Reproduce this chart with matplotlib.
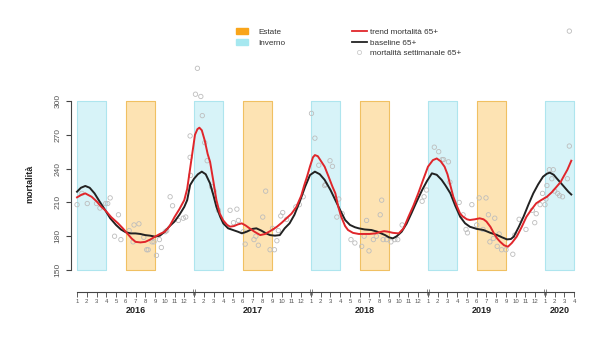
import matplotlib.pyplot as plt
import numpy as np
from matplotlib.patches import Patch
from matplotlib.lines import Line2D

plt.rcParams['font.family'] = ['Liberation Sans', 'DejaVu Sans']

## 1. Data (x = month index, 1 = Jan 2016)

anni = [2016, 2017, 2018, 2019, 2020]
anni_pos = [7, 19, 30.5, 42.5, 50.5]
mesi_label = [str(m) for m in range(1, 13)] * 4 + ['1', '2', '3', '4']
inverno = (1, 4)   # gen-apr
estate = (6, 9)    # giu-set

# weekly mortality 65+
sett_x = [1.0, 1.5, 2.05, 3.0, 3.35, 3.95, 4.15, 4.4, 5.25, 4.85, 5.5, 6.35, 6.85, 7.35, 6.75,
          7.85, 8.15, 8.3, 8.7, 8.9, 9.15, 9.65, 9.45, 10.05, 10.2, 10.55, 10.8, 11.4, 11.9,
          12.15, 12.65,
          12.6, 12.6, 13.35, 13.15, 13.7, 13.85, 14.1, 14.35, 14.8, 15.05, 15.5, 16.7, 17.4,
          17.05, 17.55, 18.05, 18.25, 19.15, 19.6, 19.35, 20.05, 20.35, 20.8, 21.25, 21.05,
          21.5, 21.65, 21.9, 22.1, 22.5, 23.45, 23.8, 24.2,
          25.05, 25.4, 25.8, 26.4, 26.5, 26.95, 27.2, 27.85, 27.65, 28.2, 29.1, 29.5, 30.2,
          30.95, 30.7, 30.45, 31.4, 31.7, 32.1, 32.25, 32.4, 32.75, 33.2, 33.6, 33.9, 34.35,
          36.4, 36.6, 36.85, 37.65, 38.1, 38.45,
          38.6, 39.1, 39.25, 40.2, 40.6, 40.9, 41.05, 41.5, 42.25, 42.95, 42.0, 42.65, 43.2,
          43.85, 43.7, 43.35, 44.3, 44.1, 44.55, 45.0, 45.7, 45.9, 46.35, 47.05, 47.7, 48.1,
          47.95, 48.5,
          49.0, 48.75, 49.1, 49.2, 49.45, 49.85, 49.7, 50.0, 50.3, 50.5, 50.8, 51.3, 51.5, 51.5]
sett_y = [208, 218, 209, 209, 205, 209, 209, 214, 199, 180, 177, 185, 190, 191, 175,
          179, 168, 168, 175, 175, 163, 170, 177, 184, 185, 215, 207, 194, 196,
          197, 234,
          250, 269, 329, 306, 304, 287, 263, 247, 224, 220, 203, 203, 204,
          192, 194, 184, 173, 177, 172, 180, 197, 220, 168, 168, 187,
          176, 185, 198, 201, 195, 206, 208, 215,
          289, 267, 243, 225, 226, 247, 242, 213, 197, 200, 177, 174, 171,
          167, 194, 180, 177, 180, 199, 212, 177, 177, 175, 177, 177, 190,
          211, 215, 221, 259, 255, 248,
          248, 246, 228, 210, 199, 186, 183, 208, 214, 214, 190, 186, 199,
          196, 178, 175, 182, 171, 168, 168, 164, 181, 195, 186, 203, 200,
          192, 208,
          208, 218, 213, 225, 239, 239, 231, 220, 218, 216, 215, 231, 260, 362]

# trend mortalita 65+
trend_x = [1.0, 1.5, 1.85, 2.5, 3.0, 3.5, 3.9, 4.5, 5.2, 5.7, 6.2, 6.6, 7.0, 7.5, 8.0, 8.5,
           9.0, 9.5, 10.0, 10.5, 11.0, 11.5, 12.0, 12.3, 12.6, 12.9, 13.1, 13.35, 13.55, 13.8,
           14.1, 14.4, 14.65, 15.0, 15.3, 15.65, 16.0, 16.4, 16.7, 17.1, 17.5, 17.9, 18.3,
           18.7, 19.2, 19.8, 20.3, 20.9, 21.5, 22.0, 22.5, 23.0, 23.5, 24.0, 24.3, 24.6, 24.9,
           25.2, 25.4, 25.7, 26.0, 26.4, 26.8, 27.2, 27.5, 27.8, 28.1, 28.5, 28.8, 29.3, 29.9,
           30.5, 31.0, 31.6, 32.0, 32.5, 32.9, 33.4, 34.0, 34.5, 35.0, 35.5, 36.0, 36.5, 37.0,
           37.5, 37.9, 38.3, 38.7, 39.0, 39.3, 39.6, 40.0, 40.3, 40.6, 41.0, 41.3, 41.8, 42.3,
           42.7, 43.0, 43.4, 43.8, 44.1, 44.4, 44.8, 45.2, 45.6, 46.1, 46.6, 47.1, 47.6, 48.1,
           48.6, 49.2, 49.7, 50.2, 50.6, 50.9, 51.3, 51.7]
trend_y = [214.5, 217, 218, 215, 211, 206, 203, 197, 191.5, 187, 182, 178, 175, 174.5, 175,
           177, 179.6, 182, 184, 189, 197, 204, 212, 222, 240, 258, 270, 275, 276.3, 274, 265,
           253, 246, 228, 212, 200, 194, 190, 188.5, 189, 190.5, 191.4, 189.5, 187, 184, 181,
           182, 185, 188.4, 192, 196, 200, 206, 216, 225, 233, 242, 250, 252, 251, 247, 241.7,
           233, 224, 218, 206, 197.3, 189, 185.5, 183, 182, 182, 182, 182.5, 183.5, 184.5, 184,
           183, 182.5, 187, 197.3, 207, 218, 230, 241.7, 247.5, 249, 246.5, 241.7, 235, 225,
           215, 206, 200, 197.3, 195, 194.4, 195, 195.9, 195, 193, 188.4, 182, 178, 175.1, 172,
           170.7, 174, 179.6, 188, 197.3, 203.5, 209.2, 212, 215, 219, 224, 228, 232.8, 239, 247]

# baseline 65+
base_x = [1.0, 1.4, 1.85, 2.3, 2.8, 3.3, 3.9, 4.4, 5.0, 5.5, 6.0, 6.5, 7.0, 7.5, 8.0, 8.5, 9.0,
          9.5, 10.0, 10.5, 11.0, 11.5, 12.0, 12.3, 12.6, 13.0, 13.4, 13.8, 14.2, 14.64, 15.0,
          15.3, 15.7, 16.0, 16.5, 17.0, 17.5, 17.9, 18.4, 19.0, 19.4, 19.9, 20.4, 20.8, 21.3,
          21.8, 22.3, 22.8, 23.3, 23.9, 24.4, 24.9, 25.4, 25.9, 26.4, 27.0, 27.5, 28.0, 28.5,
          29.0, 29.5, 29.9, 30.5, 31.2, 31.8, 32.2, 32.6, 33.0, 33.4, 33.8, 34.3, 34.8, 35.3,
          35.8, 36.4, 36.9, 37.4, 37.9, 38.4, 38.8, 39.3, 39.8, 40.3, 40.8, 41.3, 42.0, 42.7,
          43.4, 44.1, 44.6, 45.1, 45.5, 45.8, 46.3, 46.8, 47.3, 47.8, 48.3, 48.8, 49.2, 49.5,
          49.9, 50.2, 50.8, 51.4, 51.7]
base_y = [219.5, 223, 224.6, 223, 218, 211, 203, 196, 190, 186, 183.5, 182.5, 182.5, 182, 181,
          180.5, 179.6, 180.5, 184, 189, 193, 199, 206, 212, 225.4, 231, 235, 237.3, 235, 227,
          216, 206, 197, 191.4, 187, 185.5, 184, 182.6, 184, 186.5, 187, 185, 182.5, 181, 180.5,
          181, 187, 191.4, 199, 212, 224, 234.3, 237.3, 235, 230, 221, 212, 203, 194.4, 190,
          188, 187, 186, 185.5, 184, 182.5, 181, 179, 178.1, 180, 184, 191, 200.3, 210, 221,
          229, 235.8, 234.5, 230, 225, 218, 207, 197.3, 191.5, 188.4, 186.5, 185.5, 183, 181,
          179, 177.2, 177.5, 179.6, 188, 197.3, 208, 218, 226, 232.8, 235.5, 236.4, 234.5,
          231.4, 225.5, 219.5, 217]

## 2. Plot

fig = plt.figure(figsize=(5.9, 3.5), dpi=100)
ax = fig.add_axes([0.1198, 0.1657, 0.8551, 0.7583])

col_inv, col_inv_edge = '#d7f3f8', '#aee5ee'
col_est, col_est_edge = '#fde3b3', '#f0c062'

for i in range(len(anni)):
    off = 12 * i
    ax.fill_between([inverno[0] + off, inverno[1] + off], 150, 300,
                    facecolor=col_inv, edgecolor=col_inv_edge, lw=0.8, zorder=1)
    if anni[i] < 2020:
        ax.fill_between([estate[0] + off, estate[1] + off], 150, 300,
                        facecolor=col_est, edgecolor=col_est_edge, lw=0.8, zorder=1)

ax.scatter(sett_x, sett_y, s=10, facecolors='none', edgecolors='#bdbdbd',
           linewidths=0.6, zorder=2, clip_on=False)
ax.plot(base_x, base_y, color='#222222', lw=1.4, zorder=3, solid_joinstyle='round')
ax.plot(trend_x, trend_y, color='#e0262b', lw=1.4, zorder=4, solid_joinstyle='round')

ax.set_xlim(0.35, 52.1)
ax.set_ylim(130.5, 366)

# axes R style
for s in ['top', 'right']:
    ax.spines[s].set_visible(False)
ax.spines['left'].set_bounds(150, 300)
ax.spines['bottom'].set_bounds(1, 52)
ax.spines['left'].set_color('#444444')
ax.spines['bottom'].set_color('#444444')
ax.spines['left'].set_linewidth(0.8)
ax.spines['bottom'].set_linewidth(0.8)

ax.set_yticks([150, 180, 210, 240, 270, 300])
ax.tick_params(axis='y', length=3.6, width=0.8, color='#444444', labelsize=6,
               labelcolor='#555555', pad=3)
for lab in ax.get_yticklabels():
    lab.set_rotation(90)
    lab.set_va('center')

ax.set_xticks(np.arange(1, 53))
ax.set_xticklabels(mesi_label)
ax.tick_params(axis='x', length=3.6, width=0.6, color='#444444', labelsize=4.3,
               labelcolor='#555555', pad=1.5)
# year separators
sep = []
for j in range(1, 5):
    sep += [1 + 12 * j - 0.15, 1 + 12 * j + 0.15]
ax.set_xticks(sep, minor=True)
ax.tick_params(axis='x', which='minor', direction='inout', length=5, width=0.5, color='#555555')

for a, xp in zip(anni, anni_pos):
    ax.text(xp, 114, str(a), ha='center', va='center', fontsize=6.5, fontweight='bold',
            color='#222222')

ax.set_ylabel('mortalità', fontsize=6.5, fontweight='bold', color='#222222')
ax.yaxis.set_label_coords(-0.071, 0.407)

## 3. Legends

h1 = [Patch(facecolor='#f9a51a', edgecolor='#f9a51a'),
      Patch(facecolor='#a6e8f0', edgecolor='#a6e8f0')]
leg1 = fig.legend(h1, ['Estate', 'Inverno'], loc='upper left', bbox_to_anchor=(0.4, 0.9186),
                  frameon=False, fontsize=5.85, handlelength=1.44, handleheight=0.72,
                  handletextpad=1.28, labelspacing=0.35, borderpad=0, borderaxespad=0)
for t in leg1.get_texts():
    t.set_color('#333333')

h2 = [Line2D([], [], color='#e0262b', lw=1.3),
      Line2D([], [], color='#222222', lw=1.3),
      Line2D([], [], marker='o', ls='none', markersize=3, markerfacecolor='none',
             markeredgecolor='#cccccc', markeredgewidth=0.6)]
leg2 = fig.legend(h2, ['trend mortalità 65+', 'baseline 65+', 'mortalità settimanale 65+'],
                  loc='upper left', bbox_to_anchor=(0.5966, 0.9186), frameon=False,
                  fontsize=5.85, handlelength=1.8, handletextpad=0.36, labelspacing=0.35,
                  borderpad=0, borderaxespad=0)
for t in leg2.get_texts():
    t.set_color('#333333')

plt.savefig('out.png', dpi=100)
